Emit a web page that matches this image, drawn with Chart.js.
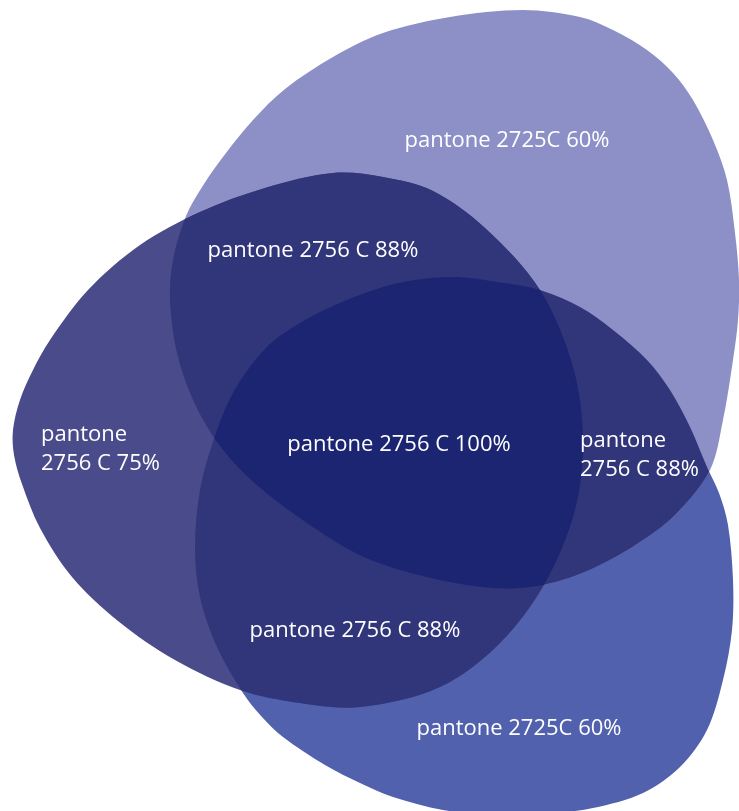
<!DOCTYPE html>
<html>
<head>
<meta charset="utf-8">
<script src="https://cdn.jsdelivr.net/npm/chart.js@4.4.1/dist/chart.umd.min.js"></script>
<style>
html,body{margin:0;padding:0;background:#ffffff;}
#wrap{width:739px;height:811px;position:relative;}
</style>
</head>
<body>
<div id="wrap"><canvas id="c" width="739" height="811"></canvas></div>
<script>
// ---- data: outline points of each blob (picture coordinates, y grows downward) ----
const leftBlob = [
  {x:333,y:173},{x:383,y:177},{x:433,y:191},{x:485,y:228},{x:540,y:290},{x:573,y:367},
  {x:583,y:440},{x:575,y:510},{x:545,y:583},{x:500,y:643},{x:440,y:687},{x:360,y:707},
  {x:300,y:703},{x:240,y:690},{x:175,y:660},{x:118,y:621},{x:72,y:577},{x:40,y:528},
  {x:22,y:484},{x:14,y:455},{x:13,y:430},{x:20,y:400},{x:33,y:370},{x:50,y:340},
  {x:88,y:290},{x:140,y:245},{x:200,y:212},{x:265,y:188}
];
const topBlob = [
  {x:523,y:10},{x:580,y:17},{x:613,y:30},{x:647,y:50},{x:673,y:73},{x:693,y:100},
  {x:713,y:140},{x:727,y:180},{x:735,y:233},{x:739,y:280},{x:738,y:320},{x:733,y:360},
  {x:723,y:420},{x:710,y:470},{x:677,y:513},{x:643,y:540},{x:594,y:568},{x:543,y:585},
  {x:493,y:588},{x:427,y:577},{x:364,y:557},{x:310,y:525},{x:258,y:486},{x:220,y:446},
  {x:194,y:402},{x:177,y:353},{x:170,y:300},{x:173,y:260},{x:186,y:216},{x:204,y:184},
  {x:226,y:153},{x:253,y:120},{x:285,y:89},{x:333,y:57},{x:383,y:33},{x:450,y:17}
];
const bottomBlob = [
  {x:457,y:277},{x:497,y:282},{x:540,y:290},{x:580,y:307},{x:613,y:330},{x:647,y:360},
  {x:670,y:390},{x:690,y:427},{x:707,y:467},{x:719,y:493},{x:728,y:525},{x:733,y:580},
  {x:732,y:630},{x:723,y:680},{x:707,y:730},{x:680,y:767},{x:643,y:793},{x:593,y:808},
  {x:543,y:814},{x:495,y:815},{x:443,y:810},{x:393,y:797},{x:360,y:783},{x:325,y:765},
  {x:283,y:737},{x:262,y:717},{x:243,y:693},{x:217,y:647},{x:200,y:597},{x:195,y:547},
  {x:200,y:490},{x:213,y:442},{x:233,y:393},{x:266,y:348},{x:300,y:323},{x:340,y:303},
  {x:380,y:288},{x:415,y:280}
];
const blobNames = ['pantone 2756 C 75%','pantone 2725C 60%','pantone 2725C 60%'];

// ---- region texts ----
const regionTexts = [
  ['pantone 2725C 60%'],
  ['pantone 2756 C 88%'],
  ['pantone','2756 C 75%'],
  ['pantone 2756 C 100%'],
  ['pantone','2756 C 88%'],
  ['pantone 2756 C 88%'],
  ['pantone 2725C 60%']
];

// ---- layout / style (not data) ----
const textAnchors = [
  {x:507, y:147, align:'center'},
  {x:313, y:257, align:'center'},
  {x:41,  y:441, align:'left'},
  {x:399, y:451, align:'center'},
  {x:580, y:447, align:'left'},
  {x:355, y:637, align:'center'},
  {x:519, y:735, align:'center'}
];
const blobColors = ['#4a4b8a','#8c90c6','#5161ad'];
const pairColor = '#31357a';
const centerColor = '#1b2572';
const FONT = '22px "Open Sans"';
const LINE_GAP = 29;

const overlapPlugin = {
  id: 'overlaps',
  afterDatasetUpdate(chart, args) {
    if (args.meta && args.meta.dataset) args.meta.dataset._loop = true;
  },
  afterDatasetsDraw(chart) {
    const ctx = chart.ctx;
    const els = chart.data.datasets.map((d, i) => chart.getDatasetMeta(i).dataset);
    const trace = el => { ctx.beginPath(); el.path(ctx); ctx.closePath(); };
    const paint = (clips, fillIdx, color) => {
      ctx.save();
      clips.forEach(i => { trace(els[i]); ctx.clip(); });
      trace(els[fillIdx]);
      ctx.fillStyle = color;
      ctx.fill();
      ctx.restore();
    };
    paint([0], 1, pairColor);
    paint([0], 2, pairColor);
    paint([1], 2, pairColor);
    paint([0, 1], 2, centerColor);

    const xs = chart.scales.x, ys = chart.scales.y;
    ctx.save();
    ctx.font = FONT;
    ctx.fillStyle = '#ffffff';
    ctx.textBaseline = 'alphabetic';
    regionTexts.forEach((lines, i) => {
      const a = textAnchors[i];
      ctx.textAlign = a.align;
      const px = xs.getPixelForValue(a.x);
      lines.forEach((t, k) => {
        ctx.fillText(t, px, ys.getPixelForValue(a.y + k * LINE_GAP));
      });
    });
    ctx.restore();
  }
};

function build() {
  const blobs = [leftBlob, topBlob, bottomBlob];
  new Chart(document.getElementById('c'), {
    type: 'scatter',
    data: {
      datasets: blobs.map((pts, i) => ({
        label: blobNames[i],
        data: pts,
        showLine: true,
        fill: 'shape',
        backgroundColor: blobColors[i],
        borderWidth: 0,
        pointRadius: 0,
        pointHoverRadius: 0,
        tension: 0.33,
        capBezierPoints: false,
        spanGaps: true
      }))
    },
    options: {
      responsive: false,
      animation: false,
      events: [],
      layout: { padding: 0 },
      plugins: { legend: { display: false }, tooltip: { enabled: false }, title: { display: false } },
      scales: {
        x: { type: 'linear', min: 0, max: 739, display: false },
        y: { type: 'linear', min: 0, max: 811, reverse: true, display: false }
      }
    },
    plugins: [overlapPlugin]
  });
}
if (document.fonts && document.fonts.load) {
  document.fonts.load(FONT).then(build, build);
} else build();
</script>
</body>
</html>
